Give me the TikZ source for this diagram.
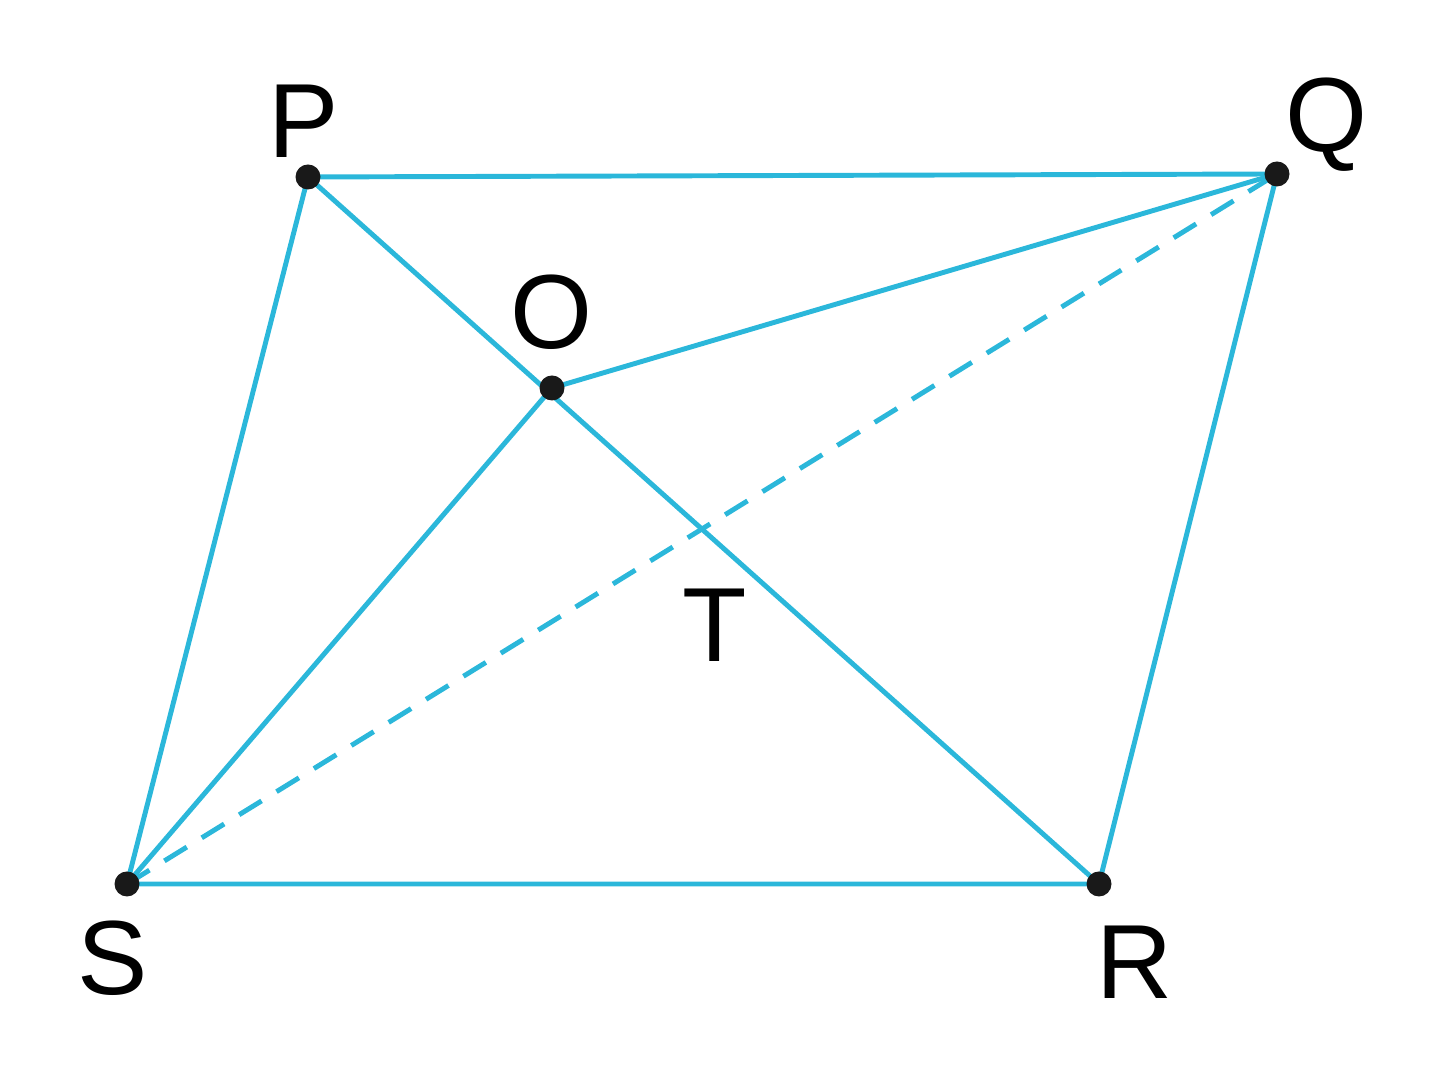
\documentclass[tikz,border=0pt]{standalone}
\usepackage{fontspec}
\setmainfont{Liberation Sans}
\definecolor{lineblue}{RGB}{43,183,218}
\tikzset{
    edge/.style={draw=lineblue, line width=1.4pt},
    dot/.style={circle, fill=black!90, inner sep=0pt, minimum size=0.25cm},
    label/.style={inner sep=0pt, font=\fontsize{30}{34}\selectfont}
}
\begin{document}
\begin{tikzpicture}
    \useasboundingbox (0, 0) rectangle (14.48, 10.86);

    % 頂点
    \coordinate (P) at (3.08, 9.09);
    \coordinate (Q) at (12.77, 9.12);
    \coordinate (R) at (10.99, 2.02);
    \coordinate (S) at (1.27, 2.02);
    \coordinate (O) at (5.52, 6.98);

    % 平行四辺形と線分
    \draw[edge] (P)--(Q)--(R)--(S)--cycle;
    \draw[edge] (P)--(R);
    \draw[edge] (S)--(O)--(Q);
    \draw[edge, dash pattern=on 7.5pt off 5pt] (S)--(Q);

    % 点
    \foreach \p in {P, Q, R, S, O}
        \node[dot] (dot\p) at (\p) {};

    % ラベル
    \node[label] (labP) at (3.04, 9.65) {P};
    \node[label] (labQ) at (13.27, 9.61) {Q};
    \node[label] (labO) at (5.52, 7.74) {O};
    \node[label] (labT) at (7.15, 4.61) {T};
    \node[label] (labS) at (1.13, 1.28) {S};
    \node[label] (labR) at (11.35, 1.24) {R};

\end{tikzpicture}
\end{document}
